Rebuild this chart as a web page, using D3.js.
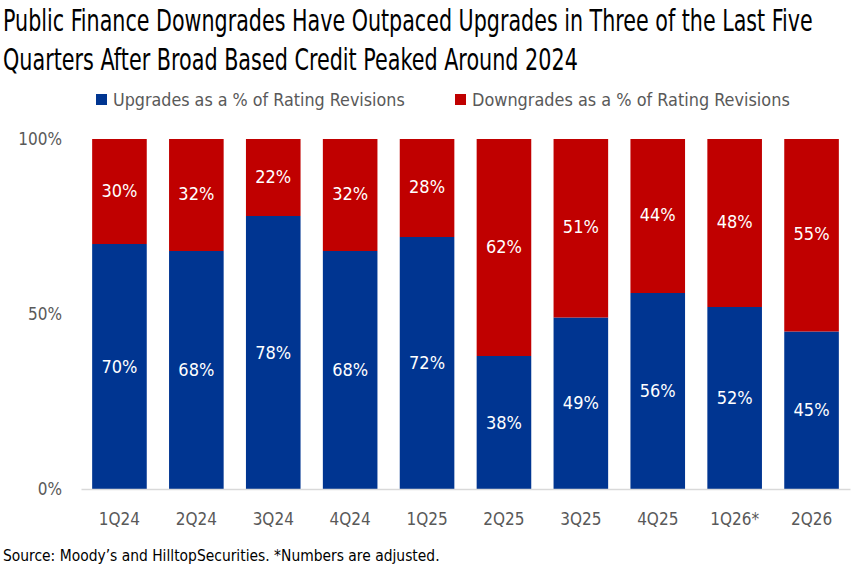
<!DOCTYPE html>
<html>
<head>
<meta charset="utf-8">
<script src="https://cdn.jsdelivr.net/npm/d3@7"></script>
<style>
  body { margin: 0; background: #fff; }
  text { font-family: "Liberation Sans Narrow", "DejaVu Sans Condensed", "Roboto Condensed", sans-serif; }
</style>
</head>
<body>
<div id="chart-container"></div>
<script>
var quarters = ["1Q24", "2Q24", "3Q24", "4Q24", "1Q25", "2Q25", "3Q25", "4Q25", "1Q26*", "2Q26"];
var upgrades = [70, 68, 78, 68, 72, 38, 49, 56, 52, 45];
var downgrades = [30, 32, 22, 32, 28, 62, 51, 44, 48, 55];
var yTicks = [0, 50, 100];
var titleLines = ["Public Finance Downgrades Have Outpaced Upgrades in Three of the Last Five",
                  "Quarters After Broad Based Credit Peaked Around 2024"];
var legendLabels = ["Upgrades as a % of Rating Revisions", "Downgrades as a % of Rating Revisions"];
var sourceText = "Source: Moody\u2019s and HilltopSecurities. *Numbers are adjusted.";

var width = 852, height = 574;
var blue = "#003591", red = "#C00000", grey = "#595959";

var svg = d3.select("#chart-container")
    .append("svg")
    .attr("width", width)
    .attr("height", height);

// fit a text to a given width by squeezing it horizontally
function squeeze(sel, x0, y0, w) {
    sel.each(function() {
        var natural = this.getComputedTextLength();
        var sx = Math.min(1, w / natural);
        d3.select(this).attr("transform", "translate(" + x0 + "," + y0 + ") scale(" + sx + ",1)");
    });
}

// title
var titleW = [810, 575];
svg.selectAll("text.title")
    .data(titleLines)
    .enter().append("text")
    .attr("class", "title")
    .attr("font-size", 30)
    .attr("fill", "#000")
    .text(function(d) { return d; })
    .each(function(d, i) { squeeze(d3.select(this), 3, 31 + i * 39, titleW[i]); });

// legend
var legendX = [96, 455];
var legendW = [292, 318];
var lg = svg.selectAll("g.legend")
    .data(legendLabels)
    .enter().append("g")
    .attr("class", "legend")
    .attr("transform", function(d, i) { return "translate(" + legendX[i] + ",94)"; });
lg.append("rect")
    .attr("width", 11).attr("height", 11)
    .attr("fill", function(d, i) { return i == 0 ? blue : red; });
lg.append("text")
    .attr("font-size", 18)
    .attr("fill", grey)
    .text(function(d) { return d; })
    .each(function(d, i) { squeeze(d3.select(this), 17, 12, legendW[i]); });

// scales
var x = d3.scaleBand()
    .domain(quarters)
    .range([81, 850])
    .paddingInner(0.29)
    .paddingOuter(0.145);

var y = d3.scaleLinear()
    .domain([0, 100])
    .range([489, 139]);

// y axis labels
svg.selectAll("text.ytick")
    .data(yTicks)
    .enter().append("text")
    .attr("class", "ytick")
    .attr("x", 62)
    .attr("y", function(d) { return y(d) + 6; })
    .attr("text-anchor", "end")
    .attr("font-size", 17)
    .attr("fill", grey)
    .text(function(d) { return d + "%"; });

var stacked = quarters.map(function(q, i) {
    return { q: q, up: upgrades[i], down: downgrades[i] };
});

// upgrades (bottom)
svg.selectAll("rect.up")
    .data(stacked)
    .enter().append("rect")
    .attr("class", "up")
    .attr("x", function(d) { return x(d.q); })
    .attr("width", x.bandwidth())
    .attr("y", function(d) { return y(d.up); })
    .attr("height", function(d) { return y(0) - y(d.up); })
    .attr("fill", blue);

// downgrades (top)
svg.selectAll("rect.down")
    .data(stacked)
    .enter().append("rect")
    .attr("class", "down")
    .attr("x", function(d) { return x(d.q); })
    .attr("width", x.bandwidth())
    .attr("y", function(d) { return y(d.up + d.down); })
    .attr("height", function(d) { return y(d.up) - y(d.up + d.down); })
    .attr("fill", red);

// value labels
svg.selectAll("text.uplabel")
    .data(stacked)
    .enter().append("text")
    .attr("class", "uplabel")
    .attr("x", function(d) { return x(d.q) + x.bandwidth() / 2; })
    .attr("y", function(d) { return y(d.up / 2) + 6; })
    .attr("text-anchor", "middle")
    .attr("font-size", 18)
    .attr("fill", "#fff")
    .text(function(d) { return d.up + "%"; });

svg.selectAll("text.downlabel")
    .data(stacked)
    .enter().append("text")
    .attr("class", "downlabel")
    .attr("x", function(d) { return x(d.q) + x.bandwidth() / 2; })
    .attr("y", function(d) { return y(d.up + d.down / 2) + 5; })
    .attr("text-anchor", "middle")
    .attr("font-size", 18)
    .attr("fill", "#fff")
    .text(function(d) { return d.down + "%"; });

// x axis
var xAxis = d3.axisBottom(x).tickSize(0).tickPadding(24);
var gx = svg.append("g")
    .attr("class", "x-axis")
    .attr("transform", "translate(0," + y(0) + ")")
    .call(xAxis);
gx.select(".domain").attr("stroke", "#d9d9d9").attr("stroke-width", 1.5);
gx.selectAll("text")
    .attr("font-size", 17)
    .attr("fill", grey)
    .style("font-family", "'Liberation Sans Narrow', 'DejaVu Sans Condensed', sans-serif");

// source
svg.append("text")
    .attr("font-size", 16)
    .attr("fill", "#000")
    .text(sourceText)
    .call(squeeze, 3, 561, 437);
</script>
</body>
</html>
